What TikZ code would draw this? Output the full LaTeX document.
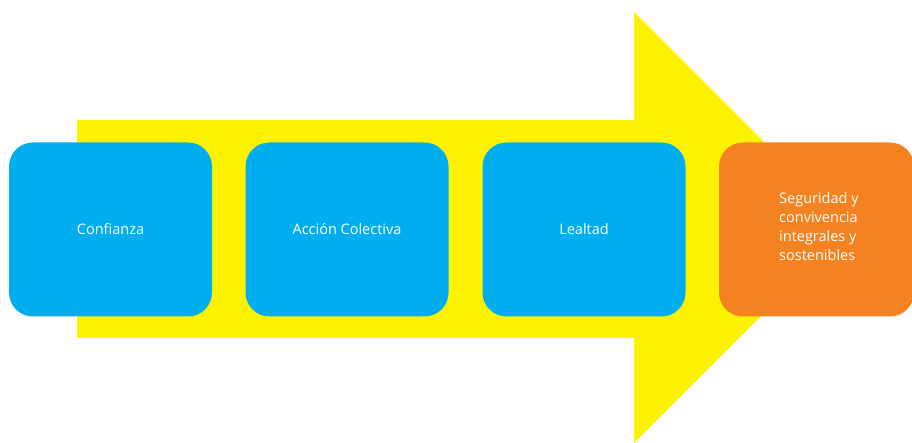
\documentclass[tikz,border=0pt]{standalone}
\usepackage{fontspec}
\setmainfont{Open Sans}
\definecolor{cyanbox}{HTML}{00AEEF}
\definecolor{yel}{HTML}{FFF200}
\definecolor{orng}{HTML}{F58220}
\begin{document}
\begin{tikzpicture}[x=1pt,y=1pt,
  box/.style={rounded corners=24pt, minimum width=203pt, minimum height=174pt, inner sep=0pt, text=white, font=\fontsize{14.5}{19}\selectfont},
  lbl/.style={text=white, font=\fontsize{14.5}{19}\selectfont, align=left, inner sep=0pt}]
\useasboundingbox (0,0) rectangle (912,443);
% yellow arrow
\fill[yel] (77,105) -- (77,323) -- (634,323) -- (634,431) -- (849.5,215.5) -- (634,0) -- (634,105) -- cycle;
\node[box, fill=cyanbox] (b1) at (110.5,213.5) {Confianza};
\node[box, fill=cyanbox] (b2) at (347,213.5) {Acción Colectiva};
\node[box, fill=cyanbox] (b3) at (584,213.5) {Lealtad};
\node[box, fill=orng, minimum width=195pt] (b4) at (816.5,213.5) {};
\node[lbl, anchor=west] (t4) at (779,216) {Seguridad y\\convivencia\\integrales y\\sostenibles};
\end{tikzpicture}
\end{document}
